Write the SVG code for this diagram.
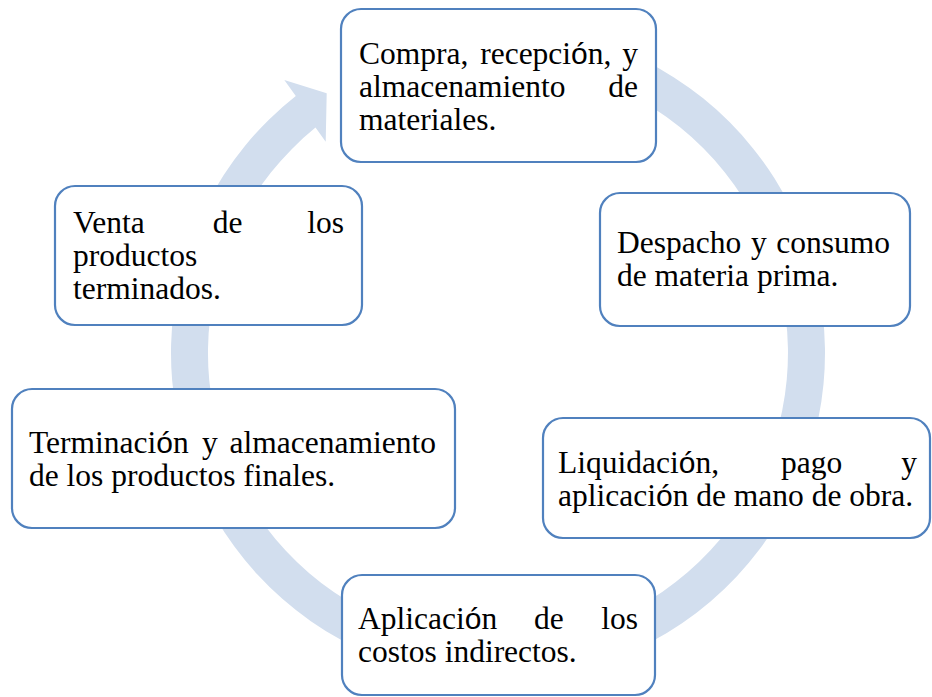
<svg xmlns="http://www.w3.org/2000/svg" width="932" height="697" viewBox="0 0 932 697">
<style>
.box{fill:#ffffff;stroke:#5081BE;stroke-width:2.2}
.t{font-family:"Liberation Serif","Times New Roman",serif;font-size:31.5px;fill:#000000}
.s{font-family:"Liberation Sans",Arial,sans-serif;font-size:30px}
.ring{fill:#D2DEEE;stroke:none}
</style>
<rect width="932" height="697" fill="#ffffff"/>
<g id="connectors">
<path class="ring" d="M 609.8 45.7 A 327 327 0 1 1 295.8 96.0 L 284.3 80 L 326.7 93.3 L 325.7 141.7 L 315.5 127.6 A 290 290 0 1 0 597.2 80.5 Z"/>
</g>
<g id="n1">
<rect class="box" x="341" y="9" width="315" height="153" rx="20"/>
<text class="t" y="63.5"><tspan x="359">Compra,</tspan> <tspan x="480.2">recepci<tspan class="s">ó</tspan>n,</tspan> <tspan x="622.3">y</tspan></text>
<text class="t" y="96.5"><tspan x="359">almacenamiento</tspan> <tspan x="608.3">de</tspan></text>
<text class="t" x="359" y="129.5">materiales.</text>
</g>
<g id="n2">
<rect class="box" x="600" y="193" width="310" height="133" rx="20"/>
<text class="t" y="253"><tspan x="617">Despacho</tspan> <tspan x="750.9">y</tspan> <tspan x="776.3">consumo</tspan></text>
<text class="t" x="617" y="286">de materia prima.</text>
</g>
<g id="n3">
<rect class="box" x="543" y="418" width="387" height="120" rx="20"/>
<text class="t" y="472.5"><tspan x="558">Liquidaci<tspan class="s">ó</tspan>n,</tspan> <tspan x="781">pago</tspan> <tspan x="901.2">y</tspan></text>
<text class="t" x="558" y="505.5">aplicaci<tspan class="s">ó</tspan>n de mano de obra.</text>
</g>
<g id="n4">
<rect class="box" x="342" y="575" width="313" height="120" rx="20"/>
<text class="t" y="629"><tspan x="358">Aplicaci<tspan class="s">ó</tspan>n</tspan> <tspan x="534">de</tspan> <tspan x="601.2">los</tspan></text>
<text class="t" x="358" y="662">costos indirectos.</text>
</g>
<g id="n5">
<rect class="box" x="12" y="389" width="443" height="139" rx="20"/>
<text class="t" y="453"><tspan x="29">Terminaci<tspan class="s">ó</tspan>n</tspan> <tspan x="202">y</tspan> <tspan x="229.5">almacenamiento</tspan></text>
<text class="t" x="29" y="486">de los productos finales.</text>
</g>
<g id="n6">
<rect class="box" x="55" y="186" width="307" height="139" rx="20"/>
<text class="t" y="232.5"><tspan x="73">Venta</tspan> <tspan x="212.8">de</tspan> <tspan x="307.2">los</tspan></text>
<text class="t" x="73" y="265.5">productos</text>
<text class="t" x="73" y="298.5">terminados.</text>
</g>
</svg>
